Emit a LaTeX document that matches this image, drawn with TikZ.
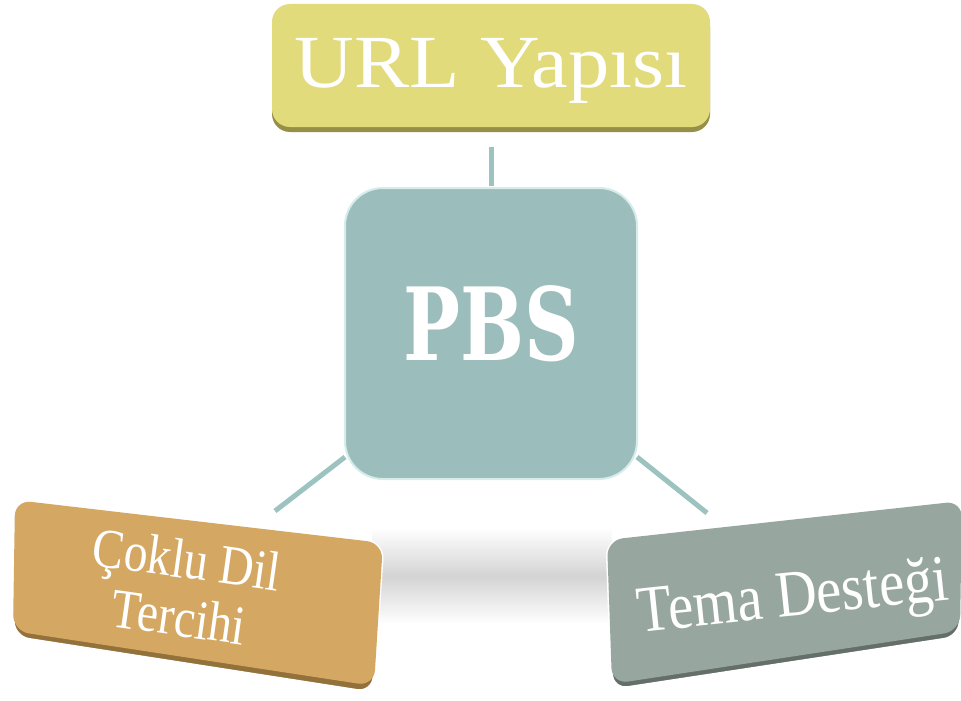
\documentclass[tikz,border=0pt]{standalone}
\usepackage{fontspec}
\setmainfont{Liberation Serif}
\newfontfamily\pbsfont{DejaVu Serif}
\usetikzlibrary{calc,shadows}
\definecolor{urlfill}{HTML}{E2DB7C}
\definecolor{urlrim}{HTML}{958F48}
\definecolor{pbsfill}{HTML}{9BBDBC}
\definecolor{pbsrim}{HTML}{D6ECEB}
\definecolor{linkcol}{HTML}{9DC3C1}
\definecolor{dilfill}{HTML}{D4A862}
\definecolor{dilrim}{HTML}{93713A}
\definecolor{temafill}{HTML}{97A69F}
\definecolor{temarim}{HTML}{646F69}

\begin{document}
\begin{tikzpicture}[x=1pt,y=-1pt,
  link/.style={draw=linkcol, line width=5pt},
  label/.style={text=white, inner sep=0pt},
  bevel/.style={drop shadow={shadow xshift=0pt, shadow yshift=-5pt,
      shadow scale=1, fill=#1, opacity=1}},
]
\useasboundingbox (0,0) rectangle (961,701);
\fill[white] (0,0) rectangle (961,701);

% soft grey band between the two lower boxes
\shade[top color=white, bottom color=white, middle color=black!17]
  (372,528) rectangle (612,624);

% top box
\node[fill=urlfill, rounded corners=18pt, minimum width=438pt,
      minimum height=123pt, bevel=urlrim] (url) at (491,65.5) {};
\node[label, font=\fontsize{75}{80}\selectfont, anchor=base, xscale=1.1]
  (urltext) at (491,88) {URL Yapısı};

% centre box
\node[fill=pbsfill, draw=pbsrim, line width=2pt, rounded corners=38pt,
      minimum width=292pt, minimum height=291pt] (pbs) at (491,333.5) {};
\node[label, font=\pbsfont\bfseries\fontsize{101}{110}\selectfont, anchor=base, xscale=0.75]
  (pbstext) at (491,360) {PBS};

% connector ends
\coordinate (pbsL) at ([shift={(1,-23)}]pbs.south west);
\coordinate (pbsR) at ([shift={(-1,-23)}]pbs.south east);
\coordinate (dilC) at (275,511);
\coordinate (temaC) at (707,513);

% connectors
\draw[link, shorten <=20pt, shorten >=1pt] (url.south) -- (pbs.north);
\draw[link] (pbsL) -- (dilC);
\draw[link] (pbsR) -- (temaC);

% lower left box
\coordinate (d1) at (15,500);
\coordinate (d2) at (383,543);
\coordinate (d3) at (373,693);
\coordinate (d4) at (13,637);
\draw[white, line width=3pt, fill=dilrim, rounded corners=16pt]
  (d1) -- (d2) -- (d3) -- (d4) -- cycle;
\fill[dilfill, rounded corners=16pt]
  (15,500) -- (383,543) -- (374,686) -- (13,631) -- cycle;
\node[label, font=\fontsize{56}{58}\selectfont, align=center, rotate=-8, xscale=0.85]
  (diltext) at (183,588) {Çoklu Dil\\Tercihi};

% lower right box
\coordinate (r1) at (607,540);
\coordinate (r2) at (962,501);
\coordinate (r3) at (960,637);
\coordinate (r4) at (612,690);
\draw[white, line width=3pt, fill=temarim, rounded corners=16pt]
  (r1) -- (r2) -- (r3) -- (r4) -- cycle;
\fill[temafill, rounded corners=16pt]
  (607,540) -- (962,501) -- (960,631) -- (612,684) -- cycle;
\node[label, font=\fontsize{66}{70}\selectfont, anchor=base, rotate=6, xscale=0.86]
  (tematext) at (795,616) {Tema Desteği};
\end{tikzpicture}
\end{document}
